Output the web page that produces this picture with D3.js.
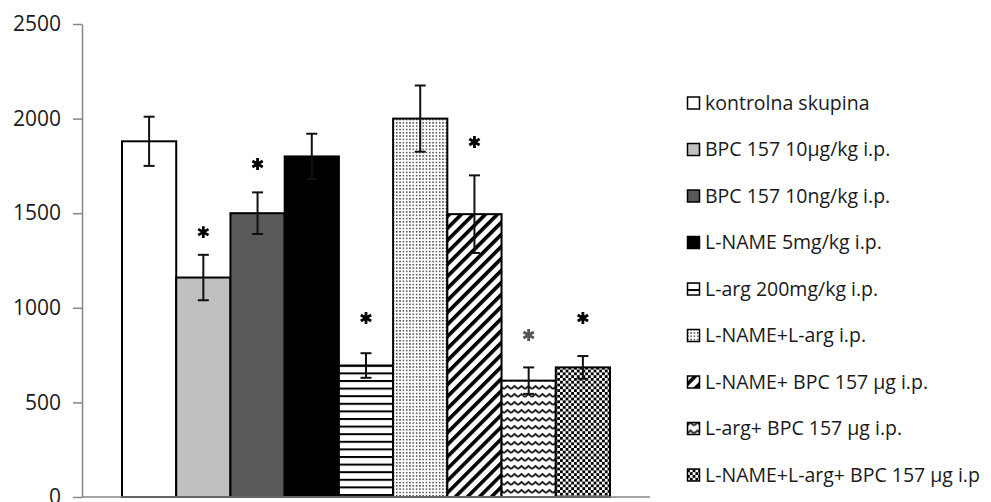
<!DOCTYPE html>
<html>
<head>
<meta charset="utf-8">
<script src="https://cdn.jsdelivr.net/npm/d3@7"></script>
<style>
  body { margin: 0; background: #fff; }
  text { font-family: "Open Sans", sans-serif; fill: #1a1a1a; }
</style>
</head>
<body>
<script>
// groups, means, error bars, star (significance) heights
var groups = ["kontrolna skupina", "BPC 157 10µg/kg i.p.", "BPC 157 10ng/kg i.p.",
              "L-NAME 5mg/kg i.p.", "L-arg 200mg/kg i.p.", "L-NAME+L-arg i.p.",
              "L-NAME+ BPC 157 µg i.p.", "L-arg+ BPC 157 µg i.p.", "L-NAME+L-arg+ BPC 157 µg i.p"];
var means = [1880, 1160, 1500, 1800, 695, 2000, 1495, 615, 685];
var errs  = [130, 120, 110, 120, 65, 175, 205, 70, 60];
var stars = [null, 1400, 1760, null, 946, null, 1876, 856, 946];
var yTicks = [0, 500, 1000, 1500, 2000, 2500];

var fills = ["#ffffff", "#c0c0c0", "#595959", "#000000",
             "url(#hlines)", "url(#dots)", "url(#diag)", "url(#wave)", "url(#checker)"];

var width = 991, height = 502;

var svg = d3.select("body").append("svg")
    .attr("width", width)
    .attr("height", height);

// patterns
var defs = svg.append("defs");

var p = defs.append("pattern").attr("id", "hlines")
    .attr("patternUnits", "userSpaceOnUse").attr("width", 10).attr("height", 7.6);
p.append("rect").attr("width", 10).attr("height", 7.6).attr("fill", "#fff");
p.append("rect").attr("y", 0).attr("width", 10).attr("height", 2).attr("fill", "#000");

p = defs.append("pattern").attr("id", "dots")
    .attr("patternUnits", "userSpaceOnUse").attr("width", 3.3).attr("height", 3.3);
p.append("rect").attr("width", 3.3).attr("height", 3.3).attr("fill", "#fff");
p.append("rect").attr("width", 1.5).attr("height", 1.5).attr("fill", "#444");

p = defs.append("pattern").attr("id", "diag")
    .attr("patternUnits", "userSpaceOnUse").attr("width", 8.5).attr("height", 8.5)
    .attr("patternTransform", "rotate(45)");
p.append("rect").attr("width", 8.5).attr("height", 8.5).attr("fill", "#fff");
p.append("rect").attr("width", 3.6).attr("height", 8.5).attr("fill", "#000");

p = defs.append("pattern").attr("id", "wave")
    .attr("patternUnits", "userSpaceOnUse").attr("width", 7).attr("height", 8);
p.append("rect").attr("width", 7).attr("height", 8).attr("fill", "#fff");
p.append("path").attr("d", "M0,5 L3.5,2 L7,5").attr("fill", "none")
    .attr("stroke", "#222").attr("stroke-width", 2);

p = defs.append("pattern").attr("id", "checker")
    .attr("patternUnits", "userSpaceOnUse").attr("width", 5.6).attr("height", 5.6);
p.append("rect").attr("width", 5.6).attr("height", 5.6).attr("fill", "#fff");
p.append("rect").attr("width", 2.8).attr("height", 2.8).attr("fill", "#000");
p.append("rect").attr("x", 2.8).attr("y", 2.8).attr("width", 2.8).attr("height", 2.8).attr("fill", "#000");

// scales
var y = d3.scaleLinear().domain([0, 2500]).range([497, 24]);
var x = d3.scaleBand().domain(groups).range([122, 610]).padding(0);

// y axis
var yAxis = svg.append("g")
    .attr("transform", "translate(82,0)")
    .call(d3.axisLeft(y).tickValues(yTicks).tickFormat(d3.format("d"))
        .tickSize(9).tickPadding(12).tickSizeOuter(0));
yAxis.select(".domain").attr("stroke", "#868686").attr("stroke-width", 1.5);
yAxis.selectAll(".tick line").attr("stroke", "#868686").attr("stroke-width", 1.5);
yAxis.selectAll(".tick text")
    .style("font-family", "'Open Sans', sans-serif")
    .style("font-size", "21px")
    .attr("fill", "#1a1a1a");

// bars
svg.append("g").selectAll("rect")
    .data(groups)
    .enter().append("rect")
    .attr("x", function(d) { return x(d); })
    .attr("y", function(d, i) { return y(means[i]); })
    .attr("width", x.bandwidth())
    .attr("height", function(d, i) { return y(0) - y(means[i]); })
    .attr("fill", function(d, i) { return fills[i]; })
    .attr("stroke", "#000")
    .attr("stroke-width", 2);

// x axis line
svg.append("line")
    .attr("x1", 82).attr("x2", 650)
    .attr("y1", y(0)).attr("y2", y(0))
    .attr("stroke", "#868686").attr("stroke-width", 1.5);

// error bars
var eb = svg.append("g").selectAll("g")
    .data(groups)
    .enter().append("g")
    .attr("stroke", "#111").attr("stroke-width", 2);
eb.append("line")
    .attr("x1", function(d) { return x(d) + x.bandwidth() / 2; })
    .attr("x2", function(d) { return x(d) + x.bandwidth() / 2; })
    .attr("y1", function(d, i) { return y(means[i] + errs[i]); })
    .attr("y2", function(d, i) { return y(means[i] - errs[i]); });
eb.append("line")
    .attr("x1", function(d) { return x(d) + x.bandwidth() / 2 - 5.5; })
    .attr("x2", function(d) { return x(d) + x.bandwidth() / 2 + 5.5; })
    .attr("y1", function(d, i) { return y(means[i] + errs[i]); })
    .attr("y2", function(d, i) { return y(means[i] + errs[i]); });
eb.append("line")
    .attr("x1", function(d) { return x(d) + x.bandwidth() / 2 - 5.5; })
    .attr("x2", function(d) { return x(d) + x.bandwidth() / 2 + 5.5; })
    .attr("y1", function(d, i) { return y(means[i] - errs[i]); })
    .attr("y2", function(d, i) { return y(means[i] - errs[i]); });

// significance stars
var star = d3.symbol().type(d3.symbolAsterisk).size(100);
svg.append("g").selectAll("path")
    .data(groups.filter(function(d, i) { return stars[i] != null; }))
    .enter().append("path")
    .attr("d", star)
    .attr("transform", function(d) {
        var i = groups.indexOf(d);
        return "translate(" + (x(d) + x.bandwidth() / 2) + "," + y(stars[i]) + ")";
    })
    .attr("fill", "none")
    .attr("stroke", function(d) { return groups.indexOf(d) == 7 ? "#555" : "#000"; })
    .attr("stroke-width", 2.8);

// legend
var legend = svg.append("g").attr("transform", "translate(687,103)")
    .selectAll("g")
    .data(groups)
    .enter().append("g")
    .attr("transform", function(d, i) { return "translate(0," + (i * 46.5) + ")"; });
legend.append("rect")
    .attr("x", 0.5).attr("y", -6)
    .attr("width", 12).attr("height", 12)
    .attr("fill", function(d, i) { return fills[i]; })
    .attr("stroke", "#000").attr("stroke-width", 1.5);
legend.append("text")
    .attr("x", 18).attr("dy", "0.35em")
    .style("font-size", "19.5px")
    .text(function(d) { return d; });
</script>
</body>
</html>
